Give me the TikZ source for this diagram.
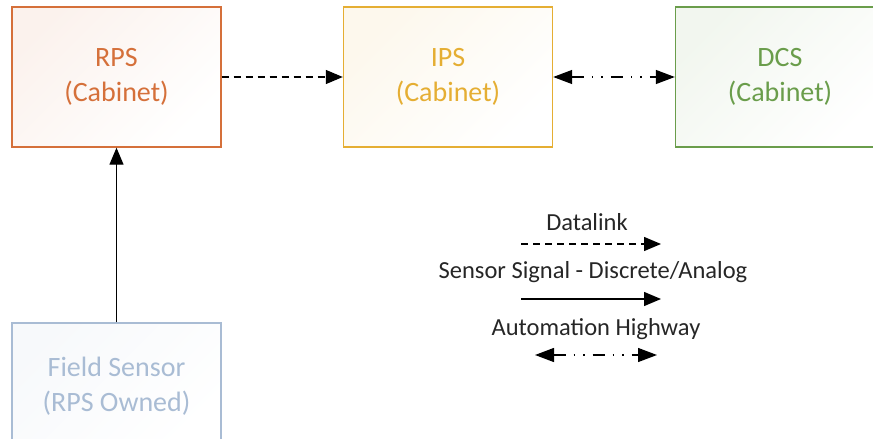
\documentclass[tikz,border=0pt]{standalone}
\usepackage{fontspec}
\setmainfont{Carlito}
\usepackage{xcolor}
\usetikzlibrary{arrows.meta}

\definecolor{rpscol}{HTML}{D5703A}
\definecolor{ipscol}{HTML}{E5AE33}
\definecolor{dcscol}{HTML}{6A9D4B}
\definecolor{fieldcol}{HTML}{A9BCD4}

\tikzset{
	cabinet/.style={draw=#1, text=#1, line width=1.4pt, rectangle,
		minimum width=209pt, minimum height=140pt, align=center,
		top color=#1!9, bottom color=white, shading angle=45,
		font=\fontsize{28}{35}\selectfont},
	datalink/.style={dashed, dash pattern=on 7pt off 5pt, line width=1.3pt,
		-{Triangle[length=17pt,width=14pt]}},
	sensorsig/.style={line width=1.3pt, -{Triangle[length=17pt,width=14pt]}},
	highway/.style={line width=1.3pt, dash pattern=on 12pt off 8pt on 1.5pt off 8pt on 1.5pt off 8pt,
		{Triangle[length=19pt,width=14pt]}-{Triangle[length=19pt,width=14pt]}},
	legendtext/.style={font=\fontsize{24.5}{28}\selectfont, text=black!85}
}

\begin{document}
\begin{tikzpicture}[x=1pt,y=-1pt]
				%\draw[help lines] (0,0) grid (873,439);
				\useasboundingbox (0,0) rectangle (873,439);
				\clip (0,0) rectangle (873,439);
				
				% cabinets
				\node[cabinet=rpscol, text depth=4pt] (rps) at (116.5,77) {RPS\\(Cabinet)};
				\node[cabinet=ipscol, text depth=4pt] (ips) at (448,77) {IPS\\(Cabinet)};
				\node[cabinet=dcscol, text depth=4pt] (dcs) at (780,77) {DCS\\(Cabinet)};
				\node[cabinet=fieldcol, minimum height=126pt] (field) at (116.5,386) {Field Sensor\\(RPS Owned)};
				
				% links
				\draw[datalink] (rps) -- (ips);
				\draw[highway] (ips) -- (dcs);
				\draw[sensorsig] (field) -- (rps);
				
				% legend
				\node[legendtext] (lgdata) at (587,222) {Datalink};
				\coordinate (dataA) at (521,244);
				\coordinate (dataB) at (661,244);
				\draw[datalink] (dataA) -- (dataB);
				
				\node[legendtext] (lgsensor) at (593,272) {Sensor Signal - Discrete/Analog};
				\coordinate (sensA) at (521,299);
				\coordinate (sensB) at (661,299);
				\draw[sensorsig] (sensA) -- (sensB);
				
				\node[legendtext] (lghigh) at (596,329) {Automation Highway};
				\coordinate (highA) at (535,355);
				\coordinate (highB) at (657,355);
				\draw[highway] (highA) -- (highB);
\end{tikzpicture}
\end{document}
